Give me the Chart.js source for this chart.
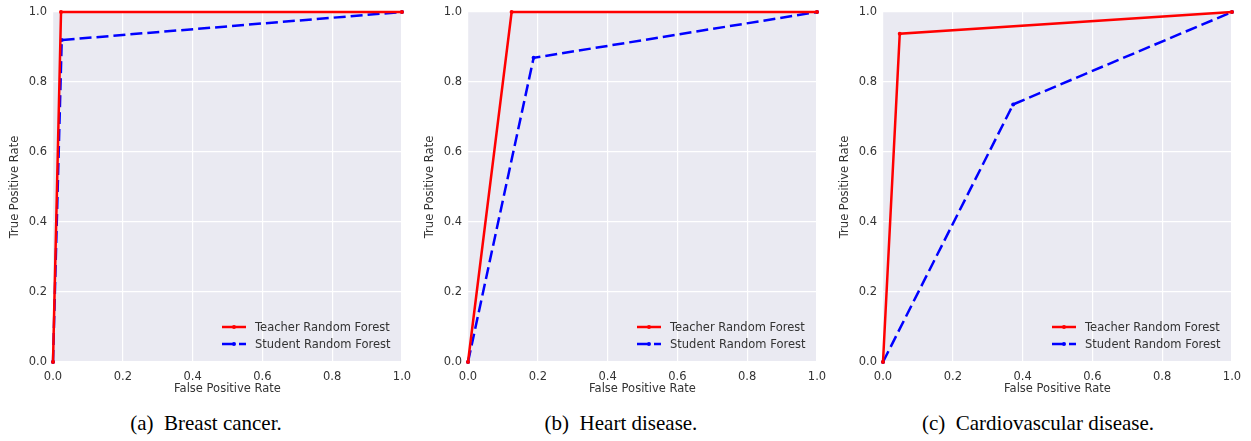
<!DOCTYPE html>
<html>
<head>
<meta charset="utf-8">
<script src="https://cdn.jsdelivr.net/npm/chart.js@4.4.1/dist/chart.umd.min.js"></script>
<style>
  body { margin: 0; background: #fff; width: 1251px; height: 441px; position: relative; overflow: hidden; }
  .panel { position: absolute; top: 0; width: 416px; height: 402px; }
  .caption { position: absolute; top: 411px; width: 416px; text-align: center;
             font-family: "Liberation Serif", "Times New Roman", serif; font-size: 21px; color: #000; }
</style>
</head>
<body>
<div class="panel" style="left:0px"><canvas id="rocA"></canvas></div>
<div class="panel" style="left:415px"><canvas id="rocB"></canvas></div>
<div class="panel" style="left:830px"><canvas id="rocC"></canvas></div>
<div class="caption" style="left:-2px">(a)&nbsp; Breast cancer.</div>
<div class="caption" style="left:413px">(b)&nbsp; Heart disease.</div>
<div class="caption" style="left:830px">(c)&nbsp; Cardiovascular disease.</div>
<script>
// ROC curve points (false positive rate / true positive rate)
var seriesNames = ['Teacher Random Forest', 'Student Random Forest'];
var axisTicks = [0.0, 0.2, 0.4, 0.6, 0.8, 1.0];

// (a) Breast cancer
var teacherFprA = [0, 0.023, 1];
var teacherTprA = [0, 1, 1];
var studentFprA = [0, 0.025, 1];
var studentTprA = [0, 0.92, 1];

// (b) Heart disease
var teacherFprB = [0, 0.125, 1];
var teacherTprB = [0, 1, 1];
var studentFprB = [0, 0.188, 1];
var studentTprB = [0, 0.869, 1];

// (c) Cardiovascular disease
var teacherFprC = [0, 0.048, 1];
var teacherTprC = [0, 0.938, 1];
var studentFprC = [0, 0.373, 1];
var studentTprC = [0, 0.736, 1];

var textColor = '#333333';
var tickFont = { family: 'DejaVu Sans', size: 11.5 };

function toPoints(xs, ys) {
    var pts = [];
    for (var i = 0; i < xs.length; i++) pts.push({ x: xs[i], y: ys[i] });
    return pts;
}

// grey seaborn-like background behind the plot
var bgPlugin = {
    id: 'bg',
    beforeDraw: function(chart) {
        var a = chart.chartArea, ctx = chart.ctx;
        ctx.save();
        ctx.fillStyle = '#eaeaf2';
        ctx.fillRect(a.left, a.top, a.right - a.left, a.bottom - a.top);
        ctx.restore();
    }
};

// legend drawn inside the plot, lower right, with line + marker samples
var innerLegend = {
    id: 'innerLegend',
    afterDatasetsDraw: function(chart) {
        var a = chart.chartArea, ctx = chart.ctx;
        ctx.save();
        chart.data.datasets.forEach(function(ds, i) {
            var y = a.bottom - 35 + i * 17;
            var x0 = a.right - 180, x1 = a.right - 156;
            ctx.strokeStyle = ds.borderColor;
            ctx.lineWidth = ds.borderWidth;
            ctx.setLineDash(ds.borderDash || []);
            ctx.beginPath();
            ctx.moveTo(x0, y);
            ctx.lineTo(x1, y);
            ctx.stroke();
            ctx.setLineDash([]);
            ctx.fillStyle = ds.borderColor;
            ctx.beginPath();
            ctx.arc((x0 + x1) / 2, y, 2, 0, Math.PI * 2);
            ctx.fill();
            ctx.fillStyle = textColor;
            ctx.font = '11.5px "DejaVu Sans"';
            ctx.textBaseline = 'middle';
            ctx.textAlign = 'left';
            ctx.fillText(ds.label, a.right - 147, y + 1);
        });
        ctx.restore();
    }
};

function makeRoc(id, tFpr, tTpr, sFpr, sTpr) {
    var ctx = document.getElementById(id).getContext('2d');
    return new Chart(ctx, {
        type: 'line',
        data: {
            datasets: [{
                label: seriesNames[0],
                data: toPoints(tFpr, tTpr),
                borderColor: '#ff0000',
                backgroundColor: '#ff0000',
                borderWidth: 2.5,
                pointRadius: 2,
                pointBorderWidth: 0,
                fill: false,
                tension: 0,
                clip: 2
            }, {
                label: seriesNames[1],
                data: toPoints(sFpr, sTpr),
                borderColor: '#0000ff',
                backgroundColor: '#0000ff',
                borderWidth: 2.5,
                borderDash: [12, 5],
                pointRadius: 2,
                pointBorderWidth: 0,
                fill: false,
                tension: 0,
                clip: 2
            }]
        },
        options: {
            responsive: false,
            animation: false,
            devicePixelRatio: 1,
            layout: { padding: { top: 12, right: 14, left: 0, bottom: 0 } },
            plugins: { legend: { display: false }, tooltip: { enabled: false } },
            scales: {
                x: {
                    type: 'linear',
                    min: 0, max: 1,
                    afterFit: function(s) { s.height = 40; s.paddingLeft = 0; s.paddingRight = 0; },
                    afterBuildTicks: function(s) { s.ticks = axisTicks.map(function(v) { return { value: v }; }); },
                    border: { display: false },
                    grid: { color: '#ffffff', lineWidth: 1.2, drawTicks: false },
                    ticks: { color: textColor, font: tickFont, padding: 8, maxRotation: 0,
                             callback: function(v) { return v.toFixed(1); } },
                    title: { display: true, text: 'False Positive Rate', color: textColor,
                             font: tickFont, padding: { top: 0, bottom: 6 } }
                },
                y: {
                    type: 'linear',
                    min: 0, max: 1,
                    afterFit: function(s) { s.width = 53; s.paddingTop = 0; s.paddingBottom = 0; },
                    afterBuildTicks: function(s) { s.ticks = axisTicks.map(function(v) { return { value: v }; }); },
                    border: { display: false },
                    grid: { color: '#ffffff', lineWidth: 1.2, drawTicks: false },
                    ticks: { color: textColor, font: tickFont, padding: 6,
                             callback: function(v) { return v.toFixed(1); } },
                    title: { display: true, text: 'True Positive Rate', color: textColor,
                             font: tickFont, padding: { top: 8, bottom: 0 } }
                }
            }
        },
        plugins: [bgPlugin, innerLegend]
    });
}

function sizeCanvas(id) {
    var c = document.getElementById(id);
    c.width = 416; c.height = 402;
    c.style.width = '416px'; c.style.height = '402px';
}

['rocA', 'rocB', 'rocC'].forEach(sizeCanvas);
makeRoc('rocA', teacherFprA, teacherTprA, studentFprA, studentTprA);
makeRoc('rocB', teacherFprB, teacherTprB, studentFprB, studentTprB);
makeRoc('rocC', teacherFprC, teacherTprC, studentFprC, studentTprC);
</script>
</body>
</html>
